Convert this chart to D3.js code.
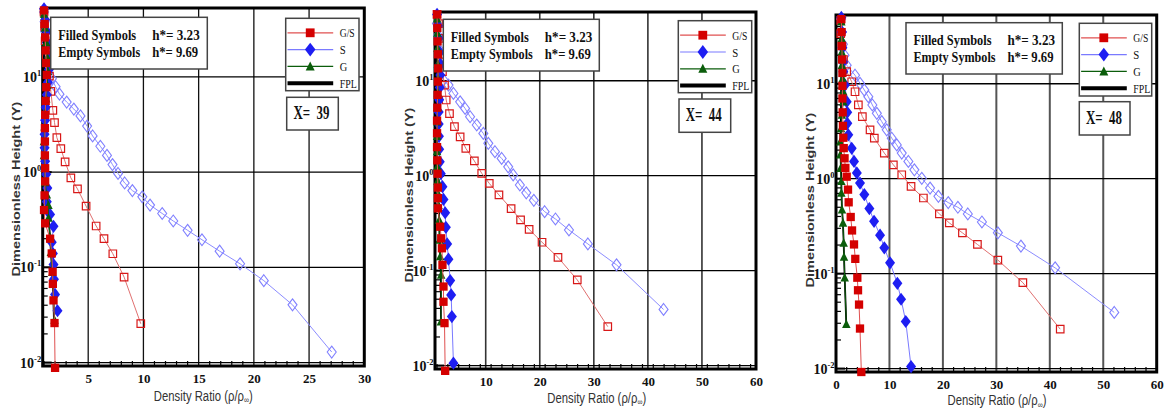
<!DOCTYPE html>
<html>
<head>
<meta charset="utf-8">
<script src="https://cdn.jsdelivr.net/npm/d3@7"></script>
<style>
  body { margin: 0; background: #fff; }
  svg { display: block; }
</style>
</head>
<body>
<svg id="chart" width="1166" height="410"></svg>
<script>
// ---- data: [density ratio, Y] ----
// X = 39
const gsFilled39 = [[1.0,50],[1.05,36],[1.1,26],[1.15,19],[1.2,14],[1.25,10.5],[1.2,7.8],[1.15,5.6],[1.1,4.0],[1.08,2.9],[1.08,2.1],[1.08,1.5],[1.1,1.1],[1.1,0.8],[1.05,0.57],[1.0,0.4],[1.1,0.29],[1.55,0.2],[1.7,0.14],[1.78,0.09],[1.8,0.067],[1.86,0.045],[1.95,0.026],[2.0,0.0088]];
const sFilled39 = [[1.0,52],[1.1,40],[1.25,30],[1.4,22],[1.5,16],[1.45,12],[1.35,8.8],[1.25,6.5],[1.15,4.8],[1.1,3.5],[1.05,2.5],[1.05,1.8],[1.1,1.3],[1.2,0.95],[1.3,0.68],[1.25,0.49],[1.55,0.36],[1.86,0.27],[1.7,0.184],[1.8,0.14],[1.86,0.107],[1.9,0.075],[2.0,0.052],[2.22,0.035]];
const gFilled39 = [[1.0,46],[1.1,33],[1.2,23],[1.3,16],[1.35,11.5],[1.3,8.2],[1.2,5.9],[1.1,4.2],[1.05,3.0],[1.0,2.1],[1.0,1.5],[1.05,1.1],[1.1,0.78],[1.25,0.58],[1.4,0.45],[1.4,0.33],[1.55,0.208],[1.62,0.144],[1.75,0.089],[1.95,0.028]];
const fpl39 = [[1.0,53],[1.0,20],[1.0,5],[1.02,2],[1.05,1.1],[1.1,0.75],[1.3,0.45],[1.45,0.3],[1.55,0.2],[1.65,0.13],[1.75,0.085],[1.85,0.045],[1.9,0.028]];
const gsEmpty39 = [[1.0,48],[1.05,34],[1.1,24],[1.2,17],[1.35,13],[1.49,10.2],[1.62,7.07],[1.8,4.45],[1.95,3.32],[2.16,2.31],[2.52,1.77],[2.91,1.285],[3.43,0.87],[4.03,0.666],[4.81,0.44],[5.72,0.272],[6.43,0.2],[7.23,0.139],[8.25,0.079],[9.76,0.0256]];
const sEmpty39 = [[1.0,48],[1.05,38],[1.1,30],[1.2,23],[1.35,17],[1.5,13],[1.71,9.6],[2.05,7.9],[2.4,6.6],[3.05,5.45],[3.7,4.6],[4.3,3.9],[4.9,3.05],[5.4,2.4],[6.1,1.87],[6.7,1.5],[7.2,1.2],[7.7,0.97],[8.3,0.77],[9.0,0.64],[9.9,0.55],[10.6,0.451],[11.7,0.368],[12.7,0.307],[14.0,0.245],[15.3,0.195],[16.9,0.148],[18.75,0.109],[20.9,0.0725],[23.5,0.0404],[27.05,0.0129]];

// X = 44
const gsFilled44 = [[1.0,50],[1.05,36],[1.1,26],[1.15,19],[1.2,13.5],[1.15,9.8],[1.1,7.1],[1.05,5.2],[1.0,3.8],[1.0,2.8],[1.0,2.0],[1.05,1.45],[1.1,1.05],[1.15,0.75],[1.15,0.58],[1.16,0.453],[1.58,0.29],[1.77,0.219],[1.9,0.172],[2.0,0.115],[2.19,0.068],[2.19,0.047],[2.38,0.028],[2.5,0.0088]];
const sFilled44 = [[1.0,50],[1.15,38],[1.3,28],[1.5,20],[1.6,15],[1.6,11.5],[1.5,8.5],[1.4,6.3],[1.3,4.7],[1.3,3.5],[1.35,2.6],[1.4,1.9],[1.5,1.4],[1.7,1.05],[2.0,0.766],[2.19,0.563],[2.5,0.407],[2.63,0.286],[2.87,0.191],[3.11,0.132],[3.43,0.0785],[3.61,0.0555],[3.74,0.0328],[4.03,0.0106]];
const gFilled44 = [[1.0,45],[1.05,32],[1.1,22],[1.15,15],[1.2,10.5],[1.15,7.5],[1.1,5.3],[1.05,3.7],[1.0,2.6],[1.0,1.8],[1.05,1.25],[1.1,0.88],[1.2,0.65],[1.27,0.49],[1.4,0.342],[1.46,0.211],[1.58,0.141],[1.77,0.09],[1.71,0.029]];
const fpl44 = [[1.0,52],[1.0,20],[1.0,5],[1.0,2],[1.05,1.1],[1.15,0.7],[1.27,0.49],[1.4,0.33],[1.46,0.21],[1.58,0.14],[1.7,0.09],[1.71,0.029]];
const gsEmpty44 = [[1.0,50],[1.27,40],[1.4,28],[1.7,19],[2.0,12.5],[2.38,9.0],[2.69,6.27],[3.3,4.5],[4.22,3.28],[5.27,2.57],[6.32,1.94],[7.9,1.43],[9.26,1.06],[10.66,0.83],[12.45,0.627],[14.7,0.45],[16.45,0.342],[18.03,0.272],[20.42,0.199],[23.37,0.138],[26.94,0.0798],[32.58,0.0257]];
const sEmpty44 = [[0.98,40],[1.2,30],[1.5,21],[1.85,14],[2.19,10.2],[3.11,9.0],[4.03,7.35],[5.27,6.0],[6.19,5.11],[7.11,4.18],[8.34,3.42],[9.56,2.79],[10.48,2.19],[11.71,1.79],[12.95,1.52],[14.16,1.24],[15.08,1.02],[16.32,0.798],[17.5,0.66],[18.9,0.55],[20.9,0.418],[22.9,0.35],[25.4,0.268],[28.9,0.191],[34.2,0.115],[42.9,0.039]];

// X = 48
const gsFilled48 = [[1.0,48],[1.05,35],[1.1,25],[1.15,18],[1.2,13],[1.2,9.5],[1.2,7],[1.25,5],[1.3,3.6],[1.37,2.7],[1.45,2.1],[1.6,1.64],[1.75,1.3],[2.0,1.05],[2.25,0.767],[2.37,0.564],[2.75,0.395],[3.0,0.285],[3.37,0.203],[3.61,0.143],[3.99,0.0906],[4.12,0.0668],[4.31,0.0472],[4.49,0.0264],[4.74,0.0092]];
const sFilled48 = [[1.0,50],[1.1,35],[1.2,24],[1.3,17],[1.37,13.4],[1.69,9.7],[2.0,6.47],[2.1,5.0],[2.12,3.83],[2.3,2.9],[2.94,2.09],[3.37,1.52],[3.9,1.15],[4.49,0.9],[5.3,0.68],[6.24,0.484],[7.12,0.356],[8.24,0.254],[9.04,0.187],[10.11,0.13],[11.48,0.079],[12.17,0.0537],[13.05,0.0313],[14.04,0.0105]];
const gFilled48 = [[1.0,45],[1.07,30],[1.07,21.7],[1.1,15.7],[1.25,11.4],[1.37,8.24],[1.37,6.47],[1.1,4.69],[0.94,3.39],[0.8,2.46],[0.8,1.79],[0.85,1.29],[1.0,0.94],[1.0,0.706],[1.12,0.473],[1.31,0.342],[1.44,0.211],[1.5,0.15],[1.63,0.0906],[1.93,0.0294]];
const fpl48 = [[1.0,50],[1.0,20],[0.95,8],[0.9,3],[0.9,1.5],[1.0,0.9],[1.1,0.5],[1.3,0.34],[1.44,0.21],[1.5,0.15],[1.63,0.09],[1.93,0.029]];
const gsEmpty48 = [[0.88,46.6],[0.88,33.7],[1.1,25],[1.4,18],[2.0,13.4],[2.94,10.5],[3.56,8.24],[4.18,5.98],[4.93,4.5],[6.37,3.27],[7.17,2.67],[9.04,1.86],[10.73,1.4],[12.3,1.1],[14.04,0.83],[16.35,0.626],[19.34,0.426],[21.2,0.342],[23.65,0.269],[26.46,0.203],[30.28,0.139],[34.96,0.0803],[41.95,0.026]];
const sEmpty48 = [[0.95,48],[1.1,35],[1.3,26],[1.6,20],[2.0,15.7],[3.56,12.3],[4.49,10.1],[5.3,8.59],[6.05,7.31],[6.8,5.98],[7.64,4.88],[8.56,3.99],[9.49,3.27],[10.43,2.67],[11.37,2.27],[12.3,1.86],[13.54,1.52],[14.66,1.24],[16.05,1.01],[17.6,0.797],[19.16,0.652],[21.0,0.56],[22.8,0.5],[24.66,0.425],[27.3,0.35],[30.28,0.269],[34.6,0.195],[41.0,0.115],[52.06,0.039]];

const xTicks39 = [5, 10, 15, 20, 25, 30];
const xTicks44 = [10, 20, 30, 40, 50, 60];
const xTicks48 = [0, 10, 20, 30, 40, 50, 60];
const yTicks = [0.01, 0.1, 1, 10];
const yTickExp = ["-2", "-1", "0", "1"];
const legendLabels = ["G/S", "S", "G", "FPL"];
const infoLines = [["Filled Symbols", "h*= 3.23"], ["Empty Symbols", "h*= 9.69"]];
const yMin = 0.0092, yMax = 53;

// ---- layout ----
const panels = [
  { station: "39", left: 42.7, top: 8, right: 364.3, bottom: 366, xDomain: [0.88, 30], xTicks: xTicks39, minorStep: 1,
    gridColor: "#111", gridWidth: 1.3,
    data: { sEmpty: sEmpty39, gsEmpty: gsEmpty39, fpl: fpl39, sFilled: sFilled39, gFilled: gFilled39, gsFilled: gsFilled39 },
    info: [50.7, 17.3, 207.3, 69], legend: [285.7, 18.3, 359, 90.7], xbox: [286.7, 97.3, 338.3, 130],
    yLab: [16, 189], xLab: [203.3, 400.5] },
  { station: "44", left: 435, top: 12, right: 756, bottom: 369, xDomain: [0.62, 60], xTicks: xTicks44, minorStep: 2,
    gridColor: "#333", gridWidth: 1.6,
    data: { sEmpty: sEmpty44, gsEmpty: gsEmpty44, fpl: fpl44, sFilled: sFilled44, gFilled: gFilled44, gsFilled: gsFilled44 },
    info: [443.3, 19.3, 599.3, 71], legend: [678.3, 20.7, 751.7, 92.7], xbox: [679, 99, 730.7, 132.3],
    yLab: [409, 195], xLab: [596.7, 402.5] },
  { station: "48", left: 836, top: 15, right: 1156.7, bottom: 372, xDomain: [0, 60], xTicks: xTicks48, minorStep: 2,
    gridColor: "#555", gridWidth: 2,
    data: { sEmpty: sEmpty48, gsEmpty: gsEmpty48, fpl: fpl48, sFilled: sFilled48, gFilled: gFilled48, gsFilled: gsFilled48 },
    info: [906, 22.7, 1062.3, 74], legend: [1079.3, 23.3, 1151.7, 96], xbox: [1079.3, 101.7, 1130, 135],
    yLab: [810, 200], xLab: [997, 405] },
];

const serif = "'Liberation Serif','Times New Roman',serif";
const sans = "'Liberation Sans',Arial,sans-serif";

const shapes = {
  square: (s) => `M${-s / 2},${-s / 2}h${s}v${s}h${-s}Z`,
  diamond: (s) => `M0,${-s * 0.66}L${s * 0.5},0L0,${s * 0.66}L${-s * 0.5},0Z`,
  triangle: (s) => `M0,${-s * 0.55}L${s * 0.5},${s * 0.45}L${-s * 0.5},${s * 0.45}Z`,
};

// drawing order: empty symbols underneath, filled on top
const styles = [
  { key: "sEmpty", line: "#8c8cff", lw: 1, shape: "diamond", size: 9, fill: "none", stroke: "#8080ff", sw: 1.1 },
  { key: "gsEmpty", line: "#e07070", lw: 1, shape: "square", size: 7.5, fill: "none", stroke: "#d81818", sw: 1.2 },
  { key: "fpl", line: "#000", lw: 1.8 },
  { key: "sFilled", line: "#7a7aff", lw: 1, shape: "diamond", size: 10, fill: "#1e1ef2" },
  { key: "gFilled", line: "#0b5d0b", lw: 1, shape: "triangle", size: 8.5, fill: "#0b5d0b" },
  { key: "gsFilled", line: "#e05050", lw: 1, shape: "square", size: 8.3, fill: "#d40000" },
];
const legendStyles = ["gsFilled", "sFilled", "gFilled", "fpl"].map((k) => styles.find((s) => s.key === k));

const svg = d3.select("#chart");

panels.forEach((p) => {
  const g = svg.append("g");
  const x = d3.scaleLinear().domain(p.xDomain).range([p.left, p.right]);
  const y = d3.scaleLog().domain([yMin, yMax]).range([p.bottom, p.top]);

  // grid
  g.selectAll("line.vgrid")
    .data(p.xTicks.filter((t) => t > p.xDomain[0] && t < p.xDomain[1]))
    .join("line").attr("class", "vgrid")
    .attr("x1", (d) => x(d)).attr("x2", (d) => x(d))
    .attr("y1", p.top).attr("y2", p.bottom)
    .attr("stroke", p.gridColor).attr("stroke-width", p.gridWidth);
  g.selectAll("line.hgrid").data(yTicks).join("line").attr("class", "hgrid")
    .attr("x1", p.left).attr("x2", p.right)
    .attr("y1", (d) => y(d)).attr("y2", (d) => y(d))
    .attr("stroke", "#000").attr("stroke-width", 1.3);

  // minor ticks (inward)
  const xMinor = d3.range(Math.ceil(p.xDomain[0]), p.xDomain[1], p.minorStep)
    .filter((v) => !p.xTicks.includes(v));
  g.selectAll("line.xminor").data(xMinor).join("line").attr("class", "xminor")
    .attr("x1", (d) => x(d)).attr("x2", (d) => x(d))
    .attr("y1", p.bottom).attr("y2", p.bottom - 5)
    .attr("stroke", "#000").attr("stroke-width", 1.2);
  const yMinor = [];
  for (let e = -3; e <= 1; e++)
    for (let k = 2; k <= 9; k++) {
      const v = k * Math.pow(10, e);
      if (v > yMin && v < yMax) yMinor.push(v);
    }
  g.selectAll("line.yminor").data(yMinor).join("line").attr("class", "yminor")
    .attr("x1", p.left).attr("x2", p.left + 5)
    .attr("y1", (d) => y(d)).attr("y2", (d) => y(d))
    .attr("stroke", "#000").attr("stroke-width", 1.2);
  g.selectAll("line.ymajor").data(yTicks).join("line").attr("class", "ymajor")
    .attr("x1", p.left).attr("x2", p.left + 9)
    .attr("y1", (d) => y(d)).attr("y2", (d) => y(d))
    .attr("stroke", "#000").attr("stroke-width", 2);

  // frame
  g.append("rect")
    .attr("x", p.left).attr("y", p.top)
    .attr("width", p.right - p.left).attr("height", p.bottom - p.top)
    .attr("fill", "none").attr("stroke", "#000").attr("stroke-width", 3);

  // x tick labels
  const xa = g.append("g").attr("transform", `translate(0,${p.bottom})`)
    .call(d3.axisBottom(x).tickValues(p.xTicks).tickSize(0).tickPadding(8).tickFormat(d3.format("d")));
  xa.select(".domain").remove();
  xa.selectAll("text").attr("font-family", serif).attr("font-size", 13).attr("font-weight", "bold").attr("fill", "#111");

  // y tick labels 10^n
  yTicks.forEach((t, i) => {
    const tx = g.append("text")
      .attr("x", p.left - 1.5).attr("y", y(t) + 5)
      .attr("text-anchor", "end")
      .attr("font-family", serif).attr("font-weight", "bold").attr("fill", "#111");
    tx.append("tspan").attr("font-size", 14).text("10");
    tx.append("tspan").attr("font-size", 8.5).attr("dy", -6).text(yTickExp[i]);
  });

  // series
  const line = d3.line().x((d) => x(d[0])).y((d) => y(d[1]));
  styles.forEach((s) => {
    const pts = p.data[s.key];
    g.append("path").attr("d", line(pts))
      .attr("fill", "none").attr("stroke", s.line).attr("stroke-width", s.lw);
    if (!s.shape) return;
    g.selectAll(`path.m-${s.key}`).data(pts).join("path").attr("class", `m-${s.key}`)
      .attr("transform", (d) => `translate(${x(d[0])},${y(d[1])})`)
      .attr("d", shapes[s.shape](s.size))
      .attr("fill", s.fill)
      .attr("stroke", s.stroke || "none")
      .attr("stroke-width", s.sw || 0);
  });

  // info box
  const [i0, j0, i1, j1] = p.info;
  g.append("rect").attr("x", i0).attr("y", j0).attr("width", i1 - i0).attr("height", j1 - j0)
    .attr("fill", "#fff").attr("stroke", "#444").attr("stroke-width", 1.5);
  infoLines.forEach((row, r) => {
    const by = j0 + 22.5 + r * 16.7;
    g.append("text").attr("x", i0 + 7.5).attr("y", by)
      .attr("font-family", serif).attr("font-size", 14.5).attr("font-weight", "bold").attr("fill", "#111")
      .attr("textLength", r === 0 ? 78 : 82).attr("lengthAdjust", "spacingAndGlyphs")
      .text(row[0]);
    g.append("text").attr("x", i0 + 101.5).attr("y", by)
      .attr("font-family", serif).attr("font-size", 14.5).attr("font-weight", "bold").attr("fill", "#111")
      .attr("textLength", r === 0 ? 47.5 : 46).attr("lengthAdjust", "spacingAndGlyphs")
      .text(row[1]);
  });

  // legend
  const [l0, m0, l1, m1] = p.legend;
  g.append("rect").attr("x", l0).attr("y", m0).attr("width", l1 - l0).attr("height", m1 - m0)
    .attr("fill", "#fff").attr("stroke", "#444").attr("stroke-width", 1.5);
  legendStyles.forEach((s, r) => {
    const ly = m0 + 14.5 + r * 16.8;
    g.append("line").attr("x1", l0 + 1.8).attr("x2", l0 + 47.5).attr("y1", ly).attr("y2", ly)
      .attr("stroke", s.key === "fpl" ? "#000" : s.line).attr("stroke-width", s.key === "fpl" ? 4 : 1.2);
    if (s.shape)
      g.append("path").attr("transform", `translate(${l0 + 24.5},${ly})`)
        .attr("d", shapes[s.shape](s.size + 0.5)).attr("fill", s.fill);
    g.append("text").attr("x", l0 + 54).attr("y", ly + 4.5)
      .attr("font-family", serif).attr("font-size", 13).attr("fill", "#111")
      .attr("textLength", [15, 6, 7.5, 17][r]).attr("lengthAdjust", "spacingAndGlyphs")
      .text(legendLabels[r]);
  });

  // station box
  const [a0, b0, a1, b1] = p.xbox;
  g.append("rect").attr("x", a0).attr("y", b0).attr("width", a1 - a0).attr("height", b1 - b0)
    .attr("fill", "#fff").attr("stroke", "#444").attr("stroke-width", 1.5);
  g.append("text").attr("x", a0 + 6.7).attr("y", b0 + 22)
    .attr("font-family", serif).attr("font-size", 18).attr("font-weight", "bold").attr("fill", "#111")
    .attr("textLength", 36).attr("lengthAdjust", "spacingAndGlyphs")
    .attr("xml:space", "preserve")
    .text(`X=  ${p.station}`);

  // axis titles (the source figure is squeezed sideways, so the text is too)
  g.append("text")
    .attr("transform", `translate(${p.yLab[0]},${p.yLab[1]}) scale(0.8,1) rotate(-90)`)
    .attr("text-anchor", "middle").attr("dy", "0.35em")
    .attr("font-family", sans).attr("font-size", 14.5).attr("font-weight", "bold").attr("fill", "#333")
    .text("Dimensionless Height (Y)");
  const xt = g.append("text")
    .attr("transform", `translate(${p.xLab[0]},${p.xLab[1]}) scale(0.78,1)`)
    .attr("text-anchor", "middle")
    .attr("font-family", sans).attr("font-size", 14.5).attr("fill", "#333");
  xt.append("tspan").text("Density Ratio (ρ/ρ");
  xt.append("tspan").attr("font-size", 9).attr("dy", 2.5).text("∞");
  xt.append("tspan").attr("dy", -2.5).text(")");
});
</script>
</body>
</html>
